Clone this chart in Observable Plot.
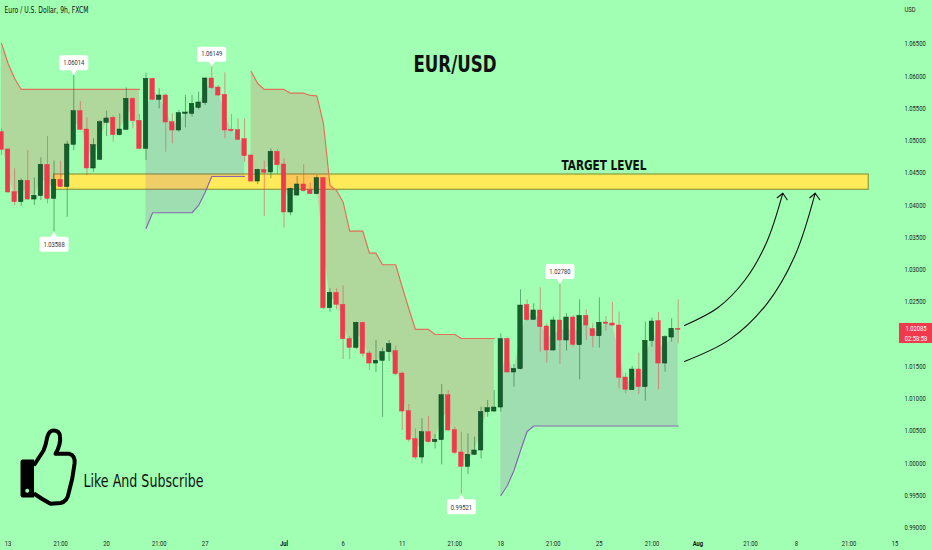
<!DOCTYPE html>
<html><head><meta charset="utf-8">
<script src="https://cdn.jsdelivr.net/npm/d3@7"></script>
<script src="https://cdn.jsdelivr.net/npm/@observablehq/plot@0.6"></script>
<style>html,body{margin:0;padding:0;background:#a0ffb2;overflow:hidden}svg{display:block}</style>
</head><body><div id="chart"></div>
<script>
const opens = [1.05133,1.04864,1.04203,1.04048,1.04379,1.04089,1.04141,1.04627,1.04100,1.04394,
1.04281,1.04937,1.05459,1.05174,1.04570,1.04704,1.05278,1.05355,1.05087,1.05169,
1.05650,1.05309,1.04875,1.05960,1.05634,1.05701,1.05288,1.05159,1.05417,1.05417,
1.05510,1.05583,1.05965,1.05825,1.05712,1.05169,1.05164,1.05025,1.04771,1.04368,
1.04549,1.04508,1.04828,1.04632,1.03888,1.04151,1.04322,1.04234,1.04172,1.04420,
1.02405,1.02643,1.02457,1.01925,1.01790,1.02178,1.01702,1.01547,1.01589,1.01723,
1.01738,1.01392,1.00808,1.00374,1.00090,1.00483,1.00328,1.00359,1.01056,1.00514,
1.00168,0.99946,1.00132,1.00199,1.00793,1.00803,1.00865,1.01925,1.01408,1.01460,
1.02452,1.02224,1.02369,1.02121,1.01749,1.02214,1.01904,1.02260,1.01832,1.02286,
1.02080,1.01971,1.02183,1.02167,1.02136,1.01330,1.01134,1.01454,1.01181,1.01894,
1.02204,1.01547,1.01950,1.02085];
const closes = [1.04859,1.04198,1.04048,1.04379,1.04089,1.04146,1.04627,1.04100,1.04394,1.04281,
1.04942,1.05459,1.05169,1.04570,1.04932,1.05288,1.05345,1.05087,1.05174,1.05650,
1.05304,1.04875,1.05960,1.05634,1.05701,1.05283,1.05159,1.05428,1.05438,1.05572,
1.05593,1.05965,1.05815,1.05701,1.05159,1.05149,1.05014,1.04761,1.04368,1.04549,
1.04503,1.04828,1.04622,1.03888,1.04255,1.04322,1.04218,1.04172,1.04420,1.02405,
1.02643,1.02457,1.01925,1.01790,1.02178,1.01697,1.01547,1.01589,1.01723,1.01847,
1.01382,1.00803,1.00364,1.00090,1.00483,1.00328,1.00364,1.01056,1.00509,1.00163,
0.99946,1.00132,1.00199,1.00793,1.00855,1.00865,1.01925,1.01408,1.01465,1.02446,
1.02219,1.02369,1.02111,1.01749,1.02214,1.01904,1.02260,1.01837,1.02286,1.02136,
1.01971,1.02178,1.02162,1.02136,1.01325,1.01139,1.01454,1.01181,1.01899,1.02198,
1.01547,1.01956,1.02085,1.02069];
const highs = [1.05185,1.04880,1.04565,1.04410,1.04849,1.04425,1.04735,1.05066,1.04683,1.04683,
1.04994,1.06014,1.05608,1.05355,1.05030,1.05314,1.05459,1.05381,1.05417,1.05820,
1.05665,1.05407,1.06048,1.05970,1.05805,1.05727,1.05417,1.05469,1.05701,1.05701,
1.05753,1.05975,1.06149,1.05856,1.06053,1.05407,1.05340,1.05340,1.04782,1.04560,
1.04683,1.04875,1.04859,1.04720,1.04265,1.04446,1.04627,1.04343,1.04461,1.04430,
1.02705,1.02705,1.02751,1.01966,1.02188,1.02188,1.01738,1.01904,1.01785,1.01904,
1.01816,1.01413,1.00912,1.00535,1.00690,1.00726,1.00447,1.01222,1.01129,1.00560,
1.00483,1.00457,1.00405,1.00870,1.00974,1.01129,1.02007,1.01945,1.01532,1.02689,
1.02534,1.02472,1.02720,1.02162,1.02266,1.02780,1.02317,1.02291,1.02534,1.02379,
1.02162,1.02565,1.02276,1.02498,1.02343,1.01397,1.01501,1.01708,1.02188,1.02250,
1.02338,1.01981,1.02240,1.02534];
const lows = [1.04771,1.04188,1.03996,1.03981,1.04074,1.03996,1.04074,1.04022,1.03588,1.04270,
1.03815,1.04849,1.05159,1.04461,1.04513,1.04694,1.05066,1.04978,1.05076,1.05159,
1.05185,1.04859,1.04694,1.05624,1.05495,1.04823,1.04952,1.05133,1.05200,1.05366,
1.05479,1.05546,1.05794,1.05686,1.05030,1.05133,1.05004,1.04668,1.04358,1.04322,
1.03826,1.04410,1.04477,1.03645,1.03836,1.04141,1.04203,1.04167,1.04162,1.02379,
1.02343,1.02384,1.01609,1.01609,1.01764,1.01645,1.01439,1.01413,1.00715,1.01578,
1.01361,1.00509,1.00328,1.00054,0.99992,1.00312,1.00225,0.99977,1.00498,1.00137,
0.99521,0.99827,1.00121,1.00070,1.00715,1.00793,1.00793,1.01397,1.01181,1.01449,
1.02204,1.02214,1.01723,1.01553,1.01739,1.01532,1.01739,1.01801,1.01294,1.01904,
1.01790,1.01785,1.02049,1.02121,1.01155,1.01077,1.01129,1.01067,1.00964,1.01801,
1.01139,1.01413,1.01878,1.01852];

const upperA = [1.0651,1.06198,1.05965,1.05795,1.05795,1.05795,1.05795,1.05795,1.05795,1.05795,1.05795,1.05795,1.05795,1.05795,1.05795,1.05795,1.05795,1.05795,1.05795,1.05795,1.05795,1.05795];
const upperB = [1.06074,1.05888,1.05795,1.05795,1.05795,1.05795,1.05737,1.05737,1.05737,1.05702,1.05697,1.05268,1.04307,1.04229,1.04048,1.03598,1.03598,1.03598,1.03257,1.03257,1.03078,1.03078,1.03078,1.02730,1.02396,1.02075,1.02075,1.02075,1.01997,1.01997,1.01997,1.01997,1.01935,1.01935,1.01935,1.01935,1.01935,1.01935];
const lowerA = [1.03640,1.03884,1.03884,1.03884,1.03884,1.03884,1.03884,1.03884,1.03997,1.04203,1.04446,1.04446,1.04446,1.04446,1.04446,1.04446];
const lowerB = [0.99502,0.99657,0.99889,1.00199,1.00494,1.00579,1.00579,1.00579,1.00579,1.00579,1.00579,1.00579,1.00579,1.00579,1.00579,1.00579,1.00579,1.00579,1.00579,1.00579,1.00579,1.00579,1.00579,1.00579,1.00579,1.00579,1.00579,1.00579];

const priceTicks = [1.065,1.06,1.055,1.05,1.045,1.04,1.035,1.03,1.025,1.015,1.01,1.005,1,0.995,0.99];
const timeTicks = [1,9,16,24,31,52,61,69,76,84,91,99,114,121,129,136];
const timeLabels = ["13","21:00","20","21:00","27","6","11","21:00","18","21:00","25","21:00","21:00","8","21:00","15"];
const monthTicks = [43,106];
const monthLabels = ["Jul","Aug"];

const calloutsUp = [{i:11,p:1.06014},{i:32,p:1.06149},{i:85,p:1.0278}];
const calloutsDown = [{i:8,p:1.03588},{i:70,p:0.99521}];

const arrow1 = [[103.96,1.02137],[109.03,1.02411],[113.2,1.02845],[116.5,1.03436],[118.92,1.04187]];
const arrow2 = [[103.96,1.01579],[110.87,1.01921],[116.5,1.02473],[120.8,1.03226],[123.85,1.04187]];
const head1 = [[118.07,1.04116],[118.92,1.04187],[119.59,1.04085]];
const head2 = [[123.03,1.04116],[123.85,1.04187],[124.55,1.04085]];

const bandLow = 1.0424, bandHigh = 1.04477, bandStart = 8, bandEnd = 132;
const lastPrice = "1.02085", countdown = "02:58:58";

const candles = opens.map((o,i)=>({i,o,c:closes[i],h:highs[i],l:lows[i]}));
const withMid = (arr,start)=>arr.map((v,k)=>({i:k+start,v,m:(opens[k+start]+closes[k+start])/2}));
const upA = withMid(upperA,0), upB = withMid(upperB,38), loA = withMid(lowerA,22), loB = withMid(lowerB,76);

const RED="#ee3a4c", GREEN="#14602c", GREEN_D="#0c3f1e";
const LINE_RED="#e2705c", LINE_PUR="#8a63b4";
const narrow='Roboto,sans-serif';
const cond='"DejaVu Sans Condensed","DejaVu Sans",sans-serif';

const callout = dir => ({draw(ctx){
  const w=14.5,r=2,g=5,h=15,s=dir;
  ctx.moveTo(0,0); ctx.lineTo(3,s*g); ctx.lineTo(w-r,s*g);
  ctx.quadraticCurveTo(w,s*g,w,s*(g+r)); ctx.lineTo(w,s*(g+h-r));
  ctx.quadraticCurveTo(w,s*(g+h),w-r,s*(g+h)); ctx.lineTo(-w+r,s*(g+h));
  ctx.quadraticCurveTo(-w,s*(g+h),-w,s*(g+h-r)); ctx.lineTo(-w,s*(g+r));
  ctx.quadraticCurveTo(-w,s*g,-w+r,s*g); ctx.lineTo(-3,s*g); ctx.closePath();
}});
const thumbOutline = {draw(c){
  c.moveTo(-6.7,-15); c.lineTo(3,-30);
  c.quadraticCurveTo(5.5,-36,6.7,-43.3);
  c.quadraticCurveTo(8.5,-50,13,-50);
  c.quadraticCurveTo(19,-50,19.5,-44);
  c.quadraticCurveTo(20.5,-36,15,-26.7);
  c.lineTo(29,-26.7);
  c.quadraticCurveTo(35,-25,34,-16.7);
  c.lineTo(31.7,-1.7); c.lineTo(28.3,11.7);
  c.quadraticCurveTo(27,21,20,22.5);
  c.lineTo(10,23.3);
  c.quadraticCurveTo(2,19,-6.7,13);
}};
const thumbCuff = {draw(c){
  c.moveTo(-18,-21); c.lineTo(-6.5,-21); c.lineTo(-6.5,17); c.lineTo(-18,17);
  c.quadraticCurveTo(-20,17,-20,15); c.lineTo(-20,-19); c.quadraticCurveTo(-20,-21,-18,-21); c.closePath();
  c.moveTo(-11.3,10.3); c.arc(-13.3,10.3,2,0,Math.PI*2,true); c.closePath();
}};
const label = (t,dx,dy,o={}) => Plot.text([t],{text:d=>d,frameAnchor:"top-left",dx,dy,lineAnchor:"middle",...o});

const chart = Plot.plot({
  width:932,height:550,marginTop:0,marginLeft:0,marginRight:30,marginBottom:20,
  style:{background:"#a0ffb2",fontFamily:narrow},
  x:{domain:[-0.152,137.14],axis:null},
  y:{domain:[0.98959,1.07174],axis:null},
  marks:[
    Plot.rect([0],{x1:bandStart,x2:bandEnd,y1:bandLow,y2:bandHigh,fill:"#ffeb5a",stroke:"#8c9a3e",strokeWidth:1.2}),
    Plot.areaY(upA,{x:"i",y1:"v",y2:"m",fill:RED,fillOpacity:0.2}),
    Plot.areaY(upB,{x:"i",y1:"v",y2:"m",fill:RED,fillOpacity:0.2}),
    Plot.areaY(loA,{x:"i",y1:"v",y2:"m",fill:"#9a30b0",fillOpacity:0.16}),
    Plot.areaY(loB,{x:"i",y1:"v",y2:"m",fill:"#9a30b0",fillOpacity:0.16}),
    Plot.lineY(upA,{x:"i",y:"v",stroke:LINE_RED,strokeWidth:1.2}),
    Plot.lineY(upB,{x:"i",y:"v",stroke:LINE_RED,strokeWidth:1.2}),
    Plot.lineY(loA,{x:"i",y:"v",stroke:LINE_PUR,strokeWidth:1.2}),
    Plot.lineY(loB,{x:"i",y:"v",stroke:LINE_PUR,strokeWidth:1.2}),
    Plot.ruleX(candles,{x:"i",y1:"l",y2:"h",stroke:d=>d.c>=d.o?GREEN:RED,strokeWidth:1,strokeOpacity:0.5}),
    Plot.rect(candles,{x1:d=>d.i-0.34,x2:d=>d.i+0.34,y1:"o",y2:"c",fill:d=>d.c>=d.o?GREEN:RED,stroke:d=>d.c>=d.o?GREEN_D:RED,strokeWidth:0.5}),
    Plot.dot(calloutsUp,{x:"i",y:"p",r:5,symbol:callout(-1),fill:"white"}),
    Plot.dot(calloutsDown,{x:"i",y:"p",r:5,symbol:callout(1),fill:"white"}),
    Plot.text(calloutsUp,{x:"i",y:"p",dy:-13,text:d=>d.p.toFixed(5),fontSize:8,fill:"#333",fontFamily:narrow}),
    Plot.text(calloutsDown,{x:"i",y:"p",dy:13,text:d=>d.p.toFixed(5),fontSize:8,fill:"#333",fontFamily:narrow}),
    Plot.line(arrow1,{curve:"catmull-rom",stroke:"#111",strokeWidth:1.1}),
    Plot.line(arrow2,{curve:"catmull-rom",stroke:"#111",strokeWidth:1.1}),
    Plot.line(head1,{stroke:"#111",strokeWidth:1.1}),
    Plot.line(head2,{stroke:"#111",strokeWidth:1.1}),
    Plot.axisY({anchor:"right",ticks:priceTicks,tickFormat:d=>d.toFixed(5),tickSize:0,tickPadding:2,textAnchor:"start",fontSize:7.2,fontFamily:narrow,fill:"#222",label:null}),
    Plot.axisX({anchor:"bottom",ticks:timeTicks,tickFormat:d=>timeLabels[timeTicks.indexOf(d)],tickSize:0,tickPadding:10,fontSize:8,fontFamily:narrow,fill:"#222",label:null}),
    Plot.axisX({anchor:"bottom",ticks:monthTicks,tickFormat:d=>monthLabels[monthTicks.indexOf(d)],tickSize:0,tickPadding:10,fontSize:8,fontWeight:"bold",fontFamily:narrow,fill:"#111",label:null}),
    Plot.rect([0],{x1:136.68,x2:141.7,y1:1.01858,y2:1.02168,fill:RED}),
    Plot.text([lastPrice],{x:139.2,y:1.02083,fill:"white",fontSize:7.2,fontFamily:narrow}),
    Plot.text([countdown],{x:139.2,y:1.01927,fill:"white",fontSize:7.2,fontFamily:narrow}),
    label("Euro / U.S. Dollar, 9h, FXCM",4,10,{fontSize:9,fontFamily:cond,fontWeight:500,fill:"#111",textAnchor:"start"}),
    label("USD",904,9,{fontSize:8,fontFamily:narrow,fill:"#222",textAnchor:"start"}),
    label("EUR/USD",454.5,64,{fontSize:23,fontFamily:cond,fontWeight:"bold",fill:"#111",textAnchor:"middle"}),
    label("TARGET LEVEL",603.5,165,{fontSize:13.5,fontFamily:cond,fontWeight:"bold",fill:"#111",textAnchor:"middle"}),
    label("Like And Subscribe",83,481,{fontSize:17,fontFamily:cond,fill:"#111",textAnchor:"start"}),
    Plot.dot([0],{x:5.94,y:0.99734,r:5,symbol:thumbOutline,fill:"none",stroke:"#000",strokeWidth:4,strokeLinejoin:"round"}),
    Plot.dot([0],{x:5.94,y:0.99734,r:5,symbol:thumbCuff,fill:"#000"})
  ]
});
document.getElementById("chart").append(chart);

// Condense text horizontally, since no narrow face is installed.
const fitted = {"EUR/USD":83,"TARGET LEVEL":85,"Like And Subscribe":120,"Euro / U.S. Dollar, 9h, FXCM":84};
chart.querySelectorAll("text").forEach(t=>{
  const s=t.textContent, len=t.getComputedTextLength();
  const w=fitted[s] ?? Math.min(len*0.73, len);
  const size=parseFloat(getComputedStyle(t).fontSize);
  t.setAttribute("textLength",(fitted[s] ?? (size<7.5 ? len*0.81 : len*0.73)).toFixed(1));
  t.setAttribute("lengthAdjust","spacingAndGlyphs");
});
</script></body></html>
